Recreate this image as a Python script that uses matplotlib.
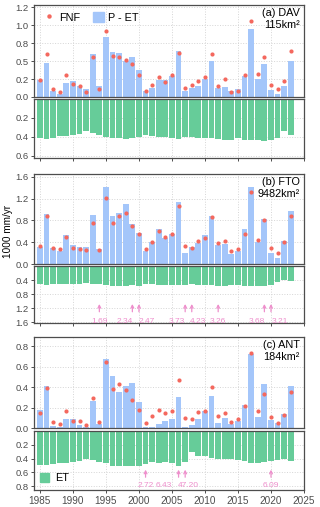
import numpy as np
import matplotlib
matplotlib.use("Agg")
import matplotlib.pyplot as plt
from matplotlib.patches import Patch
from matplotlib.lines import Line2D

plt.rcParams['font.family'] = ['Liberation Sans', 'DejaVu Sans']

years = np.arange(1985, 2024)

# (a) DAV
dav_pet = [0.23, 0.47, 0.09, 0.04, 0.19, 0.22, 0.16, 0.11, 0.60, 0.16, 0.84, 0.62, 0.61, 0.50, 0.55, 0.37, 0.08, 0.12, 0.24, 0.24,
           0.29, 0.64, 0.09, 0.12, 0.16, 0.25, 0.50, 0.12, 0.14, 0.08, 0.11, 0.29, 0.94, 0.25, 0.46, 0.10, 0.04, 0.16, 0.50]
dav_fnf = [0.24, 0.60, 0.11, 0.07, 0.30, 0.18, 0.15, 0.07, 0.55, 0.11, 0.92, 0.57, 0.55, 0.51, 0.46, 0.30, 0.08, 0.17, 0.28, 0.21,
           0.30, 0.61, 0.12, 0.17, 0.22, 0.28, 0.60, 0.15, 0.25, 0.07, 0.09, 0.31, 1.06, 0.32, 0.56, 0.17, 0.11, 0.22, 0.64]
dav_et = [0.41, 0.42, 0.41, 0.39, 0.39, 0.38, 0.375, 0.34, 0.365, 0.38, 0.40, 0.41, 0.41, 0.42, 0.41, 0.40, 0.38, 0.39, 0.40, 0.40,
          0.41, 0.42, 0.40, 0.40, 0.41, 0.41, 0.41, 0.42, 0.43, 0.43, 0.41, 0.43, 0.43, 0.43, 0.44, 0.43, 0.41, 0.34, 0.38]

# (b) FTO
fto_pet = [0.31, 0.92, 0.29, 0.24, 0.54, 0.35, 0.32, 0.32, 0.90, 0.27, 1.41, 0.88, 0.93, 1.10, 0.74, 0.57, 0.23, 0.41, 0.65, 0.48,
           0.55, 1.14, 0.21, 0.32, 0.38, 0.54, 0.88, 0.35, 0.37, 0.19, 0.24, 0.65, 1.41, 0.40, 0.83, 0.20, 0.11, 0.42, 0.97]
fto_fnf = [0.34, 0.88, 0.29, 0.27, 0.49, 0.29, 0.27, 0.25, 0.75, 0.25, 1.21, 0.75, 0.88, 0.94, 0.69, 0.55, 0.27, 0.40, 0.61, 0.50,
           0.55, 1.07, 0.34, 0.29, 0.42, 0.47, 0.86, 0.38, 0.42, 0.24, 0.27, 0.56, 1.32, 0.45, 0.81, 0.30, 0.20, 0.40, 0.89]
fto_et = [0.52, 0.54, 0.52, 0.52, 0.52, 0.52, 0.52, 0.48, 0.51, 0.52, 0.54, 0.56, 0.56, 0.56, 0.55, 0.56, 0.52, 0.52, 0.53, 0.54,
          0.53, 0.54, 0.54, 0.50, 0.53, 0.53, 0.54, 0.56, 0.56, 0.55, 0.54, 0.56, 0.56, 0.56, 0.56, 0.54, 0.45, 0.39, 0.42]
fto_arrow_years = [1994, 1999, 2000, 2007, 2008, 2012, 2019, 2020]
fto_arrow_labels = ['1.69', '2.34', '2.47', '3.73', '4.23', '3.26', '3.68', '3.21']

# (c) ANT
ant_pet = [0.177, 0.41, 0.023, 0.01, 0.09, 0.09, 0.027, 0.007, 0.267, 0.04, 0.674, 0.51, 0.353, 0.41, 0.443, 0.257, 0.005, 0.005,
           0.043, 0.073, 0.09, 0.303, 0.013, 0.033, 0.083, 0.163, 0.313, 0.047, 0.10, 0.037, 0.073, 0.227, 0.72, 0.107, 0.43,
           0.077, 0.047, 0.14, 0.41]
ant_fnf = [0.15, 0.39, 0.063, 0.037, 0.167, 0.073, 0.067, 0.03, 0.29, 0.06, 0.648, 0.385, 0.433, 0.37, 0.273, 0.18, 0.047, 0.117,
           0.18, 0.143, 0.163, 0.467, 0.093, 0.087, 0.16, 0.163, 0.40, 0.113, 0.147, 0.06, 0.083, 0.217, 0.73, 0.167, 0.327,
           0.103, 0.05, 0.123, 0.35]
ant_et = [0.49, 0.49, 0.48, 0.46, 0.46, 0.45, 0.44, 0.40, 0.42, 0.45, 0.47, 0.50, 0.50, 0.50, 0.50, 0.50, 0.48, 0.45, 0.46, 0.45,
          0.47, 0.50, 0.45, 0.31, 0.36, 0.36, 0.39, 0.40, 0.40, 0.40, 0.42, 0.43, 0.46, 0.47, 0.45, 0.44, 0.42, 0.40, 0.43]
ant_arrow_years = [2001, 2006, 2007, 2020]
ant_arrow_labels = ['2.72', '6.43', '47.20', '6.09']

c_pet = '#a4c6fa'
c_et = '#66cc99'
c_fnf = '#f4685e'
c_pink = '#ee8fcc'
c_grey = '#4d4d4d'

W, H = 320, 507
fig = plt.figure(figsize=(W/100, H/100), dpi=100)


def make_ax(top, bottom):
    ax = fig.add_axes([34/W, 1-bottom/H, 270/W, (bottom-top)/H])
    ax.set_xlim(1984.1, 2025)
    ax.set_xticks(np.arange(1985, 2026, 5))
    ax.grid(color='#d5d5d5', ls=':', lw=0.7)
    ax.set_axisbelow(True)
    for s in ax.spines.values():
        s.set_color(c_grey)
        s.set_linewidth(0.9)
    ax.tick_params(colors=c_grey, labelcolor=c_grey, labelsize=6.8, length=2.5, width=0.7, pad=1.5)
    return ax


def upper(ax, pet, fnf, ylim, yt, name, area):
    ax.bar(years, pet, width=0.88, color=c_pet, zorder=2)
    ax.scatter(years, fnf, s=9, color=c_fnf, zorder=3, lw=0)
    ax.set_ylim(0, ylim)
    ax.set_yticks(yt)
    ax.set_yticklabels(['%.1f' % v for v in yt])
    ax.tick_params(axis='x', bottom=False, labelbottom=False)
    ax.text(0.985, 0.965, name, transform=ax.transAxes, ha='right', va='top', fontsize=7.8)
    ax.text(0.985, 0.835, area, transform=ax.transAxes, ha='right', va='top', fontsize=7.8)


def lower(ax, et, ylim, yt, labels=False):
    ax.bar(years, et, width=0.88, color=c_et, zorder=2)
    ax.set_ylim(ylim, 0)
    ax.set_yticks(yt)
    ax.set_yticklabels(['%.1f' % v for v in yt])
    ax.tick_params(axis='x', labelbottom=labels)


def arrows(ax, yrs, labs, shifts, y0, y1, yt):
    for x, l, d in zip(yrs, labs, shifts):
        ax.annotate('', xy=(x, y0), xytext=(x, y1),
                    arrowprops=dict(arrowstyle='->', color=c_pink, lw=0.9, mutation_scale=5))
        ax.text(x+d, yt, l, color=c_pink, fontsize=6.0, ha='center', va='center')


a1 = make_ax(5, 97)
upper(a1, dav_pet, dav_fnf, 1.28, np.arange(0, 1.3, 0.25), '(a) DAV', '115km²')
a1.legend(handles=[Line2D([], [], marker='o', ls='', color=c_fnf, markersize=3.2, markeredgewidth=0),
                   Patch(color=c_pet)], labels=['FNF', 'P - ET'],
          loc='upper left', bbox_to_anchor=(0.0, 1.03), ncol=2, frameon=False, fontsize=7.8,
          handlelength=1.0, handleheight=1.0, handletextpad=0.4, columnspacing=1.2)
a2 = make_ax(99, 158)
lower(a2, dav_et, 0.625, [0.2, 0.4, 0.6])

b1 = make_ax(174, 264)
upper(b1, fto_pet, fto_fnf, 1.655, [0, 0.4, 0.8, 1.2, 1.6], '(b) FTO', '9482km²')
b2 = make_ax(266, 323)
lower(b2, fto_et, 1.62, [0.4, 0.8, 1.2, 1.6])
arrows(b2, fto_arrow_years, fto_arrow_labels, [0, -1.2, 1.2, -1.2, 1.0, 0, -1.1, 1.3], 1.0, 1.38, 1.57)

c1 = make_ax(337, 428)
upper(c1, ant_pet, ant_fnf, 0.888, [0, 0.2, 0.4, 0.6, 0.8], '(c) ANT', '184km²')
c2 = make_ax(431, 490)
lower(c2, ant_et, 0.855, [0.2, 0.4, 0.6, 0.8], labels=True)
c2.tick_params(axis='x', labelsize=7.2, pad=1.5)
arrows(c2, ant_arrow_years, ant_arrow_labels, [0, -2.3, 0.4, 0], 0.52, 0.71, 0.795)
c2.legend(handles=[Patch(color=c_et)], labels=['ET'], loc='lower left', bbox_to_anchor=(-0.015, -0.05),
          frameon=False, fontsize=7.8, handlelength=0.9, handleheight=0.9, handletextpad=0.5)

fig.text(8/W, 1-231/H, '1000 mm/yr', rotation=90, ha='center', va='center', fontsize=7.2)

fig.savefig('out.png', dpi=100)
